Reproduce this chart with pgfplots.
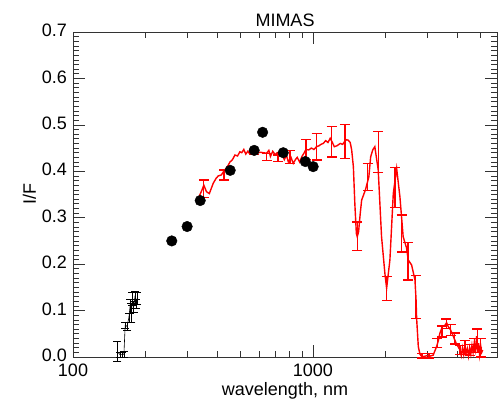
\documentclass[border=0pt]{standalone}
\usepackage{fontspec}
\setmainfont{Liberation Sans}
\usepackage{pgfplots}
\pgfplotsset{compat=1.18}
\begin{document}
\begin{tikzpicture}
\begin{axis}[
  scale only axis, width=424pt, height=325pt,
  xmode=log, xmin=100, xmax=5850, ymin=0, ymax=0.7,
  xtick={100,1000}, xticklabels={100,1000},
  minor xtick={200,300,400,500,600,700,800,900,2000,3000,4000,5000},
  ytick={0,0.1,0.2,0.3,0.4,0.5,0.6,0.7},
  yticklabels={0.0,0.1,0.2,0.3,0.4,0.5,0.6,0.7},
  minor y tick num=9,
  tick align=inside, tick pos=both,
  major tick length=12pt, minor tick length=6pt,
  tick style={black!80, line width=0.6pt},
  axis line style={line width=0.7pt, black!80},
  xlabel={wavelength, nm}, ylabel={I/F}, title={MIMAS},
  tick label style={font=\fontsize{18}{20}\selectfont},
  yticklabel style={xshift=-2.5pt, yshift=1.5pt},
  xticklabel style={yshift=-3pt},
  label style={font=\fontsize{18}{20}\selectfont},
  xlabel style={yshift=0.5pt},
  ylabel style={yshift=-1pt},
  title style={font=\fontsize{18}{20}\selectfont, yshift=-4pt},
  /pgf/number format/assume math mode=true,
  clip=false,
]
% black short-wavelength data
\addplot[black, line width=0.6pt, mark=none,
  error bars/.cd, y dir=both, y explicit,
  error bar style={black, line width=0.6pt},
  error mark options={black, rotate=90, mark size=4pt, line width=0.6pt}]
  coordinates {
  (153,0.012) +- (0,0.022)
  (157,0.005) +- (0,0.006)
  (160,0.005) +- (0,0.006)
  (163,0.006) +- (0,0.006)
  (165,0.068) +- (0,0.007)
  (168,0.066) +- (0,0.008)
  (171,0.085) +- (0,0.01)
  (173,0.110) +- (0,0.015)
  (175,0.095) +- (0,0.02)
  (177,0.125) +- (0,0.014)
  (179,0.108) +- (0,0.012)
  (181,0.128) +- (0,0.014)
  (183,0.115) +- (0,0.01)
  (185,0.126) +- (0,0.013)
  };
% red spectrum line
\addplot[red, line width=1.4pt, mark=none] coordinates {
 (333,0.342) (345,0.36) (351,0.37) (360,0.356) (370,0.352) (384,0.374)
 (395,0.385) (403,0.39) (415,0.392) (425,0.40) (440,0.41) (451,0.42)
 (462,0.425) (473,0.435) (485,0.433) (496,0.442) (505,0.44) (515,0.447)
 (525,0.437) (535,0.443) (545,0.438) (555,0.446) (564,0.444) (575,0.448)
 (590,0.440) (605,0.441) (620,0.440) (641,0.439) (655,0.445) (665,0.432)
 (680,0.443) (695,0.436) (710,0.44) (725,0.434) (740,0.438) (760,0.425)
 (775,0.435) (790,0.42) (810,0.43) (828,0.417) (845,0.425) (860,0.43)
 (880,0.42) (900,0.432) (920,0.44) (935,0.447) (960,0.446) (985,0.45)
 (1010,0.447) (1035,0.453) (1060,0.455) (1080,0.458) (1104,0.46) (1130,0.466)
 (1155,0.462) (1180,0.471) (1205,0.462) (1227,0.453) (1260,0.455) (1300,0.46)
 (1330,0.458) (1359,0.465) (1380,0.468) (1403,0.467) (1430,0.462) (1450,0.446)
 (1474,0.41) (1495,0.33) (1517,0.266) (1530,0.259) (1550,0.27) (1575,0.31)
 (1596,0.338) (1655,0.36) (1710,0.388) (1740,0.431) (1775,0.446) (1811,0.453)
 (1871,0.403) (1932,0.259) (1995,0.18) (2028,0.148) (2093,0.209) (2162,0.352)
 (2233,0.406) (2304,0.345) (2377,0.259) (2455,0.235) (2495,0.209) (2578,0.198)
 (2662,0.166) (2690,0.123) (2705,0.083) (2749,0.022) (2793,0.006) (2830,0.002)
 (2900,0.001) (2990,0.003) (3080,0.002) (3170,0.004) (3274,0.022) (3330,0.035)
 (3381,0.051) (3460,0.065) (3548,0.068) (3606,0.074) (3660,0.066) (3750,0.058)
 (3850,0.044) (3950,0.03) (4000,0.025) (4102,0.015) (4150,0.003) (4200,0.02)
 (4250,0.005) (4300,0.025) (4350,0.008) (4400,0.018) (4450,0.002) (4500,0.02)
 (4550,0.006) (4600,0.025) (4650,0.01) (4700,0.03) (4760,0.015) (4808,0.045)
 (4860,0.01) (4900,0.03) (4950,0.005) (5000,0.025) (5050,0.01) (5100,0.015)
};
% red error bars
\addplot[draw=none, mark=none,
  error bars/.cd, y dir=both, y explicit,
  error bar style={draw=red, line width=1.3pt},
  error mark options={draw=red, rotate=90, mark size=5pt, line width=1.3pt}]
  coordinates {
  (351,0.362) +- (0,0.019)
  (426,0.392) +- (0,0.011)
  (569,0.441) +- (0,0.005)
  (641,0.431) +- (0,0.008)
  (716,0.428) +- (0,0.007)
  (802,0.431) +- (0,0.014)
  (935,0.447) +- (0,0.021)
  (1035,0.453) +- (0,0.029)
  (1197,0.464) +- (0,0.033)
  (1359,0.464) +- (0,0.037)
  (1530,0.260) +- (0,0.031)
  (1690,0.388) +- (0,0.029)
  (1871,0.441) +- (0,0.044)
  (2028,0.147) +- (0,0.026)
  (2197,0.365) +- (0,0.043)
  (2342,0.266) +- (0,0.040)
  (2490,0.206) +- (0,0.040)
  (2683,0.129) +- (0,0.046)
  (2850,0.003) +- (0,0.005)
  (3050,0.003) +- (0,0.005)
  (3300,0.030) +- (0,0.010)
  (3450,0.055) +- (0,0.012)
  (3600,0.072) +- (0,0.010)
  (3750,0.058) +- (0,0.012)
  (3900,0.040) +- (0,0.012)
  (4100,0.015) +- (0,0.010)
  (4300,0.020) +- (0,0.015)
  (4500,0.015) +- (0,0.012)
  (4700,0.025) +- (0,0.015)
  (4850,0.040) +- (0,0.020)
  (5000,0.020) +- (0,0.020)
  };
% black filled circles
\addplot[only marks, mark=*, mark size=5.3pt, black, mark options={fill=black}]
  coordinates {
  (258,0.250) (299,0.281) (339,0.337) (452,0.402) (569,0.445)
  (617,0.484) (752,0.440) (929,0.421) (1002,0.410)
  };
\end{axis}
\path (current axis.south west) +(-73pt,-47pt) rectangle ([shift={(1pt,32pt)}]current axis.north east);
\end{tikzpicture}
\end{document}
